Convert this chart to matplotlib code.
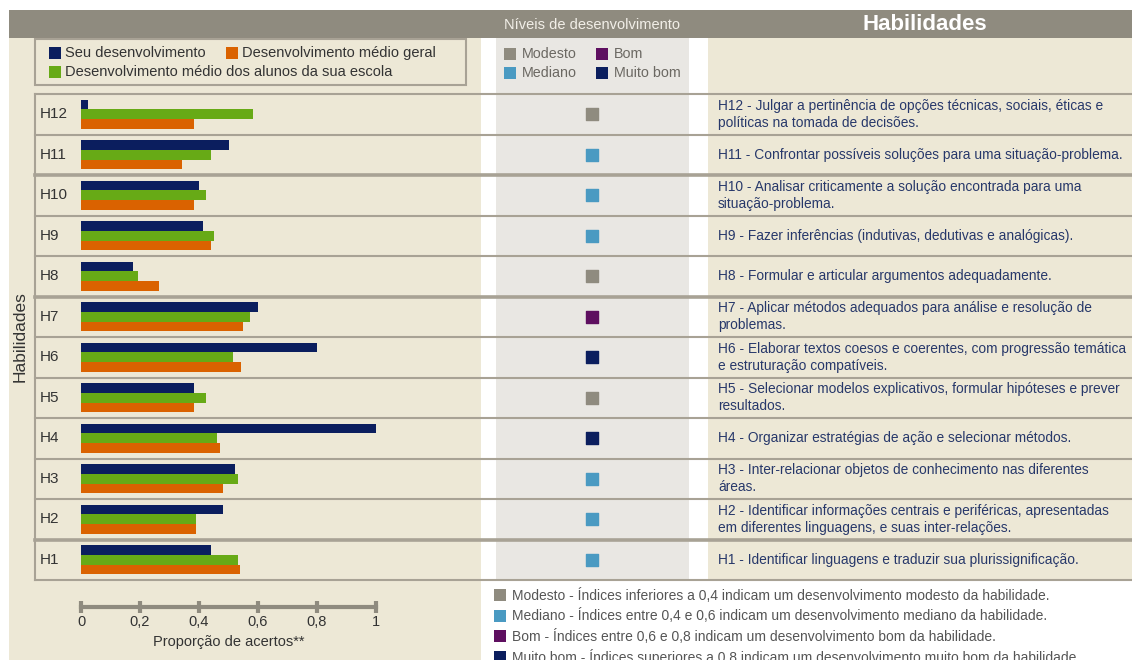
import numpy as np
import matplotlib
matplotlib.use('Agg')
import matplotlib.pyplot as plt
from matplotlib.patches import Rectangle

# dados das habilidades (de cima para baixo)
habilidades = ['H12', 'H11', 'H10', 'H9', 'H8', 'H7', 'H6', 'H5', 'H4', 'H3', 'H2', 'H1']
seu_desenv = [0.024, 0.50, 0.40, 0.414, 0.176, 0.60, 0.80, 0.383, 1.0, 0.522, 0.481, 0.44]
media_escola = [0.583, 0.44, 0.424, 0.451, 0.193, 0.573, 0.515, 0.424, 0.461, 0.532, 0.39, 0.532]
media_geral = [0.383, 0.342, 0.383, 0.44, 0.264, 0.549, 0.542, 0.383, 0.471, 0.481, 0.39, 0.539]
niveis = ['Modesto', 'Mediano', 'Mediano', 'Mediano', 'Modesto', 'Bom', 'Muito bom',
          'Modesto', 'Muito bom', 'Mediano', 'Mediano', 'Mediano']
descricoes = [
    'H12 - Julgar a pertinência de opções técnicas, sociais, éticas e\npolíticas na tomada de decisões.',
    'H11 - Confrontar possíveis soluções para uma situação-problema.',
    'H10 - Analisar criticamente a solução encontrada para uma\nsituação-problema.',
    'H9 - Fazer inferências (indutivas, dedutivas e analógicas).',
    'H8 - Formular e articular argumentos adequadamente.',
    'H7 - Aplicar métodos adequados para análise e resolução de\nproblemas.',
    'H6 - Elaborar textos coesos e coerentes, com progressão temática\ne estruturação compatíveis.',
    'H5 - Selecionar modelos explicativos, formular hipóteses e prever\nresultados.',
    'H4 - Organizar estratégias de ação e selecionar métodos.',
    'H3 - Inter-relacionar objetos de conhecimento nas diferentes\náreas.',
    'H2 - Identificar informações centrais e periféricas, apresentadas\nem diferentes linguagens, e suas inter-relações.',
    'H1 - Identificar linguagens e traduzir sua plurissignificação.',
]
xticks = [0, 0.2, 0.4, 0.6, 0.8, 1]
xtick_labels = ['0', '0,2', '0,4', '0,6', '0,8', '1']
legenda_niveis = [
    'Modesto - Índices inferiores a 0,4 indicam um desenvolvimento modesto da habilidade.',
    'Mediano - Índices entre 0,4 e 0,6 indicam um desenvolvimento mediano da habilidade.',
    'Bom - Índices entre 0,6 e 0,8 indicam um desenvolvimento bom da habilidade.',
    'Muito bom - Índices superiores a 0,8 indicam um desenvolvimento muito bom da habilidade.',
]

# cores
navy = '#0b1e5e'
green = '#67aa16'
orange = '#da6200'
header_gray = '#8f8b7f'
beige = '#ede8d6'
mid_gray = '#e9e7e3'
line_gray = '#a8a295'
cores_niveis = {'Modesto': '#8f8b7f', 'Mediano': '#4a9ac2', 'Bom': '#5e0f60', 'Muito bom': '#0b1e5e'}
txt = '#333333'

plt.rcParams['font.family'] = ['Liberation Sans', 'DejaVu Sans']

W, H = 1132, 660
fig = plt.figure(figsize=(W / 100, H / 100), dpi=100)

# eixo de fundo em pixels
bg = fig.add_axes([0, 0, 1, 1])
bg.set_xlim(0, W)
bg.set_ylim(H, 0)
bg.axis('off')

# paineis
bg.add_patch(Rectangle((9, 38), 472, 622, color=beige, lw=0))
bg.add_patch(Rectangle((496, 38), 193, 542, color=mid_gray, lw=0))
bg.add_patch(Rectangle((708, 38), W - 708, 542, color=beige, lw=0))
bg.add_patch(Rectangle((9, 10), W - 9, 28, color=header_gray, lw=0))
bg.text(592, 25, 'Níveis de desenvolvimento', ha='center', va='center', fontsize=10.5,
        color='#f2efe8')
bg.text(925, 24, 'Habilidades', ha='center', va='center', fontsize=16, fontweight='bold',
        color='white')

# legenda do grafico
bg.add_patch(Rectangle((35, 39), 431, 46, fc=beige, ec=line_gray, lw=1.5))
for (x, y, c, lab) in [(49, 53, navy, 'Seu desenvolvimento'),
                       (226, 53, orange, 'Desenvolvimento médio geral'),
                       (49, 72, green, 'Desenvolvimento médio dos alunos da sua escola')]:
    bg.add_patch(Rectangle((x, y - 6), 12, 12, color=c, lw=0))
    bg.text(x + 16, y, lab, va='center', fontsize=10.5, color=txt)

# legenda dos niveis
for (x, y, lab) in [(504, 54, 'Modesto'), (596, 54, 'Bom'), (504, 73, 'Mediano'), (596, 73, 'Muito bom')]:
    bg.add_patch(Rectangle((x, y - 6), 12, 12, color=cores_niveis[lab], lw=0))
    bg.text(x + 18, y, lab, va='center', fontsize=10.3, color='#6b6862')

# legenda inferior
for i, lab in enumerate(legenda_niveis):
    y = 595 + i * 20.7
    nome = lab.split(' - ')[0]
    bg.add_patch(Rectangle((494, y - 6), 12, 12, color=cores_niveis[nome], lw=0))
    bg.text(512, y, lab, va='center', fontsize=10, color='#555555')

bg.text(20, 337, 'Habilidades', rotation=90, ha='center', va='center', fontsize=12.5, color=txt)

# eixo das barras: 0 -> px 81, 1 -> px 376
X0, X1 = 81, 376
esc = X1 - X0
top, bot, left = 94, 580, 35
ax = fig.add_axes([left / W, (H - bot) / H, (W - left) / W, (bot - top) / H])
ax.set_facecolor('none')
ax.set_xlim((left - X0) / esc, (W - X0) / esc)
n = len(habilidades)
ax.set_ylim(n - 0.5, -0.5)
y = np.arange(n)
h = 0.235

ax.barh(y - h, seu_desenv, height=h, color=navy, zorder=3)
ax.barh(y, media_escola, height=h, color=green, zorder=3)
ax.barh(y + h, media_geral, height=h, color=orange, zorder=3)

# linhas da tabela
for i in range(n + 1):
    lw = 2.6 if i in (2, 5, 11) else 1.5
    ax.axhline(i - 0.5, color=line_gray, lw=lw, zorder=2, clip_on=False)
ax.plot([(left - X0) / esc] * 2, [-0.5, n - 0.5], color=line_gray, lw=1.5, clip_on=False)

# rotulos, niveis e descricoes
x_lab = (40 - X0) / esc
x_niv = (592 - X0) / esc
x_desc = (718 - X0) / esc
for i in range(n):
    ax.text(x_lab, i, habilidades[i], va='center', fontsize=11, color=txt)
    ax.text(x_desc, i, descricoes[i], va='center', fontsize=9.9, color='#27386a', linespacing=1.3)
ax.scatter([x_niv] * n, y, marker='s', s=78, c=[cores_niveis[v] for v in niveis], zorder=4)

# eixo x
for s in ['top', 'right', 'left']:
    ax.spines[s].set_visible(False)
ax.spines['bottom'].set_position(('outward', 19.4))
ax.spines['bottom'].set_bounds(0, 1)
ax.spines['bottom'].set_color(header_gray)
ax.spines['bottom'].set_linewidth(3)
ax.set_yticks([])
ax.set_xticks(xticks)
ax.set_xticklabels(xtick_labels)
ax.tick_params(axis='x', direction='inout', length=9, width=3, color=header_gray,
               pad=1.5, labelsize=10.5, labelcolor=txt)
bg.text(X0 + 0.5 * esc, 642, 'Proporção de acertos**', ha='center', va='center', fontsize=10.5, color=txt)

fig.savefig('out.png', dpi=100)
